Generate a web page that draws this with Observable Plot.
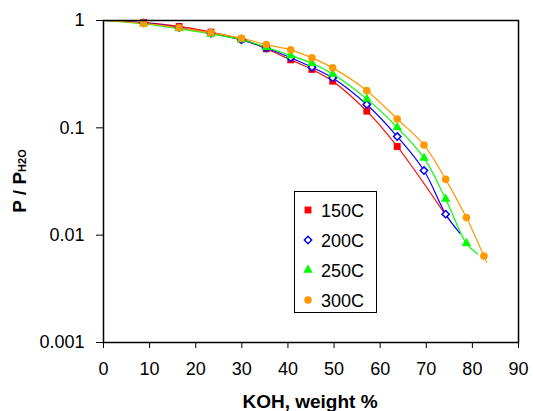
<!DOCTYPE html>
<html>
<head>
<meta charset="utf-8">
<script src="https://cdn.jsdelivr.net/npm/d3@7"></script>
<script src="https://cdn.jsdelivr.net/npm/@observablehq/plot@0.6"></script>
<style>
  body { margin: 0; background: #fff; }
  #wrap { position: relative; width: 533px; height: 411px; font-family: "Liberation Sans", Arial, sans-serif; }
  #legend { position: absolute; left: 294px; top: 191px; }
</style>
</head>
<body>
<div id="wrap"></div>
<script>
// ---- data ----
const koh = [8.7, 16.4, 23.3, 29.9, 35.3, 40.6, 45.2, 49.7, 57.1, 63.7, 69.5, 74.2, 78.7, 82.5];
const p150 = [0.96, 0.88, 0.78, 0.67, 0.545, 0.43, 0.35, 0.272, 0.143, 0.067];
const p200 = [0.95, 0.86, 0.76, 0.66, 0.555, 0.45, 0.367, 0.292, 0.165, 0.083, 0.040, 0.0157];
const p250 = [0.93, 0.84, 0.75, 0.665, 0.563, 0.472, 0.40, 0.318, 0.186, 0.101, 0.0524, 0.0217, 0.0084];
const p300 = [0.94, 0.855, 0.768, 0.684, 0.597, 0.533, 0.449, 0.362, 0.222, 0.121, 0.0693, 0.0331, 0.0146, 0.0064];
// fitted curve start / end points
const curveStart = [0, 1];
const end150 = [74.6, 0.0145];
const end200 = [77.3, 0.0104];
const end250 = [81.1, 0.0067];
const end300 = [83.1, 0.0056];
const seriesNames = ["150C", "200C", "250C", "300C"];
const xTicks = [0, 10, 20, 30, 40, 50, 60, 70, 80, 90];
const yTicks = [0.001, 0.01, 0.1, 1];
const yTickLabels = ["0.001", "0.01", "0.1", "1"];

// ---- styling ----
const styles = {
  "150C": {color: "#FF0000", symbol: "square", r: 3.9, filled: true},
  "200C": {color: "#0000FF", symbol: "diamond2", r: 3.3, filled: false},
  "250C": {color: "#00FF00", symbol: "triangle", r: 3.5, filled: true},
  "300C": {color: "#FF9900", symbol: "circle", r: 3.8, filled: true}
};
const values = {"150C": p150, "200C": p200, "250C": p250, "300C": p300};
const ends = {"150C": end150, "200C": end200, "250C": end250, "300C": end300};

const pts = {}, curves = {};
for (const s of seriesNames) {
  pts[s] = values[s].map((v, i) => ({x: koh[i], y: v, s}));
  curves[s] = [{x: curveStart[0], y: curveStart[1]}, ...pts[s], {x: ends[s][0], y: ends[s][1]}];
}

const marks = [];
for (const s of seriesNames) {
  marks.push(Plot.line(curves[s], {x: "x", y: "y", stroke: styles[s].color, strokeWidth: 1.2, curve: "catmull-rom"}));
}
for (const s of seriesNames) {
  const st = styles[s];
  marks.push(Plot.dot(pts[s], {
    x: "x", y: "y", symbol: () => st.symbol, r: st.r,
    fill: st.filled ? st.color : "white",
    stroke: st.filled ? "none" : st.color,
    strokeWidth: st.filled ? 0 : 1.5
  }));
}

const chart = Plot.plot({
  width: 533,
  height: 411,
  marginLeft: 103,
  marginRight: 15,
  marginTop: 20,
  marginBottom: 69,
  style: {fontFamily: '"Liberation Sans", Arial, sans-serif', fontSize: "18px", color: "#000", background: "#fff"},
  x: {domain: [0, 90]},
  y: {type: "log", domain: [0.001, 1]},
  symbol: {type: "identity"},
  marks: [
    ...marks,
    Plot.frame({stroke: "#000", strokeWidth: 1.5}),
    Plot.axisX({ticks: xTicks, tickSize: 6, tickPadding: 14, label: null, fontSize: 18}),
    Plot.axisY({ticks: yTicks, tickFormat: d => yTickLabels[yTicks.indexOf(d)], tickSize: 7, tickPadding: 12, label: null, fontSize: 18})
  ]
});

document.getElementById("wrap").appendChild(chart);

// axis titles
const svg = d3.select(chart);
svg.append("text")
  .attr("x", 310).attr("y", 408)
  .attr("text-anchor", "middle")
  .attr("font-weight", "bold")
  .attr("font-size", 19)
  .attr("fill", "#000")
  .text("KOH, weight %");
const yt = svg.append("text")
  .attr("transform", "translate(26,181) rotate(-90)")
  .attr("text-anchor", "middle")
  .attr("font-weight", "bold")
  .attr("fill", "#000");
yt.append("tspan").attr("font-size", 19).text("P / P");
yt.append("tspan").attr("font-size", 11).text("H2O");

// legend
const lg = d3.select("#wrap").append("svg").attr("id", "legend")
  .attr("width", 84).attr("height", 123);
lg.append("rect").attr("x", 0.5).attr("y", 0.5).attr("width", 82).attr("height", 121)
  .attr("fill", "#fff").attr("stroke", "#000").attr("stroke-width", 1);
const symMap = {square: d3.symbolSquare, diamond2: d3.symbolDiamond2, triangle: d3.symbolTriangle, circle: d3.symbolCircle};
seriesNames.forEach((s, i) => {
  const st = styles[s];
  const cy = 19 + i * 30;
  lg.append("path")
    .attr("transform", `translate(14,${cy})`)
    .attr("d", d3.symbol(symMap[st.symbol], Math.PI * st.r * st.r)())
    .attr("fill", st.filled ? st.color : "white")
    .attr("stroke", st.filled ? "none" : st.color)
    .attr("stroke-width", st.filled ? 0 : 1.5);
  lg.append("text").attr("x", 27).attr("y", cy + 6.5)
    .attr("font-size", 18).attr("fill", "#000")
    .attr("font-family", '"Liberation Sans", Arial, sans-serif')
    .text(s);
});
</script>
</body>
</html>
